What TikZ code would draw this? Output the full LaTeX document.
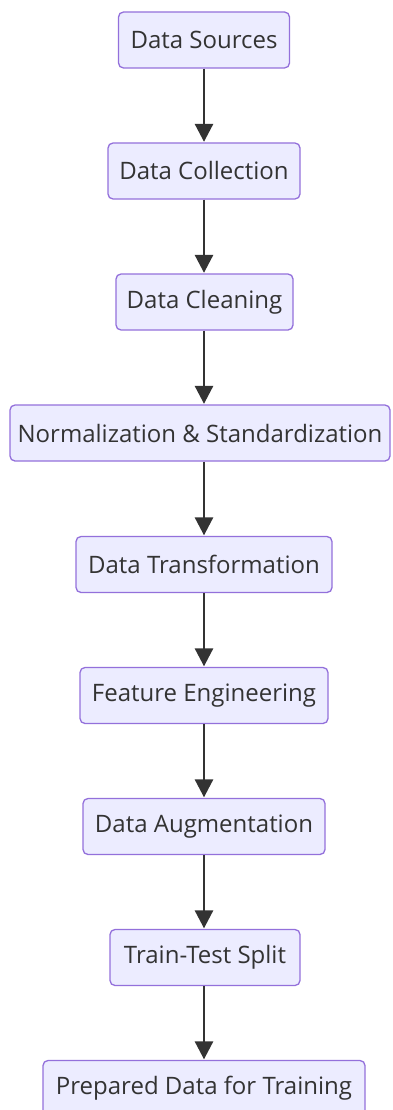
\documentclass[tikz,border=0pt]{standalone}
\usepackage{fontspec}
\setmainfont{Open Sans}
\usetikzlibrary{arrows.meta}
\definecolor{nodefill}{HTML}{ECECFF}
\definecolor{nodeborder}{HTML}{9370DB}
\definecolor{txt}{HTML}{333333}
\tikzset{
  stepbox/.style={draw=nodeborder, fill=nodefill, line width=1.3pt, rounded corners=5pt,
    minimum height=56pt, inner xsep=0pt, inner ysep=0pt, text=txt,
    font=\fontsize{24}{28}\selectfont, anchor=center},
  flow/.style={draw=txt, line width=2.8pt, -{Triangle[width=18pt,length=18pt]}, shorten >=0.5pt}
}
\begin{document}
\begin{tikzpicture}[x=1pt,y=1pt]
\useasboundingbox (0,0) rectangle (392,-1110);
\node[stepbox, minimum width=171pt] (n1) at (204,-40) {Data Sources};
\node[stepbox, minimum width=192pt] (n2) at (204,-171) {Data Collection};
\node[stepbox, minimum width=177pt] (n3) at (204.5,-302) {Data Cleaning};
\node[stepbox, minimum width=380pt] (n4) at (200,-433) {Normalization \& Standardization};
\node[stepbox, minimum width=256pt] (n5) at (204,-564.5) {Data Transformation};
\node[stepbox, minimum width=248pt] (n6) at (204,-695.5) {Feature Engineering};
\node[stepbox, minimum width=242pt] (n7) at (204,-826.5) {Data Augmentation};
\node[stepbox, minimum width=190pt] (n8) at (205,-957.5) {Train-Test Split};
\node[stepbox, minimum width=322pt] (n9) at (204,-1088.5) {Prepared Data for Training};
\foreach \a/\b in {n1/n2,n2/n3,n3/n4,n4/n5,n5/n6,n6/n7,n7/n8,n8/n9}
  \draw[flow] (\a.south -| 204,0) -- (\b.north -| 204,0);
\end{tikzpicture}
\end{document}
